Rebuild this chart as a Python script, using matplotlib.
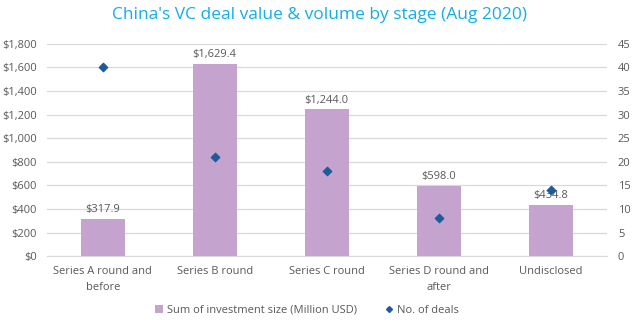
import matplotlib
matplotlib.use("Agg")
import matplotlib.pyplot as plt
from matplotlib.ticker import FuncFormatter, MultipleLocator
from matplotlib.lines import Line2D
from matplotlib.patches import Patch

stages = ["Series A round and\nbefore", "Series B round", "Series C round",
          "Series D round and\nafter", "Undisclosed"]
investment = [317.9, 1629.4, 1244.0, 598.0, 434.8]
deals = [40, 21, 18, 8, 14]

plt.rcParams["font.family"] = ["Open Sans", "DejaVu Sans"]
text_color = "#595959"
bar_color = "#C4A3CF"
dot_color = "#1F5B9B"

fig = plt.figure(figsize=(6.4, 3.25), dpi=100)
ax = fig.add_axes([0.073, 0.212, 0.875, 0.653])
ax2 = ax.twinx()

x = list(range(len(stages)))
ax.bar(x, investment, width=0.39, color=bar_color, zorder=2)
for xi, v in zip(x, investment):
    ax.text(xi, v + 30, f"${v:,.1f}", ha="center", va="bottom",
            fontsize=8, color=text_color)

ax2.scatter(x, deals, marker="D", s=18, color=dot_color, zorder=3)

ax.set_xlim(-0.5, len(stages) - 0.5)
ax.set_ylim(0, 1800)
ax2.set_ylim(0, 45)
ax.yaxis.set_major_locator(MultipleLocator(200))
ax2.yaxis.set_major_locator(MultipleLocator(5))
ax.yaxis.set_major_formatter(FuncFormatter(lambda v, p: f"${v:,.0f}"))

ax.grid(axis="y", color="#D9D9D9", linewidth=0.9, zorder=0)
ax.set_axisbelow(True)
for a in (ax, ax2):
    for s in a.spines.values():
        s.set_visible(False)
    a.tick_params(length=0, colors=text_color, labelsize=8)
ax.spines["bottom"].set_visible(True)
ax.spines["bottom"].set_color("#D9D9D9")
ax.tick_params(axis="y", pad=7)
ax2.tick_params(axis="y", pad=8)
ax.set_xticks(x)
ax.set_xticklabels(stages, fontsize=8, color=text_color, linespacing=1.6)
ax.tick_params(axis="x", pad=7)

fig.text(0.5, 0.955, "China's VC deal value & volume by stage (Aug 2020)",
         ha="center", va="center", fontsize=12.5, color="#12AEEA")

handles = [Patch(facecolor=bar_color, label="Sum of investment size (Million USD)"),
           Line2D([], [], marker="D", linestyle="none", color=dot_color,
                  markersize=3, label="No. of deals")]
fig.legend(handles=handles, loc="center", bbox_to_anchor=(0.48, 0.045),
           ncol=2, frameon=False, fontsize=8, labelcolor=text_color,
           handlelength=0.7, handleheight=0.7, handletextpad=0.4,
           columnspacing=2.5)

fig.savefig("out.png", dpi=100, facecolor="white")
